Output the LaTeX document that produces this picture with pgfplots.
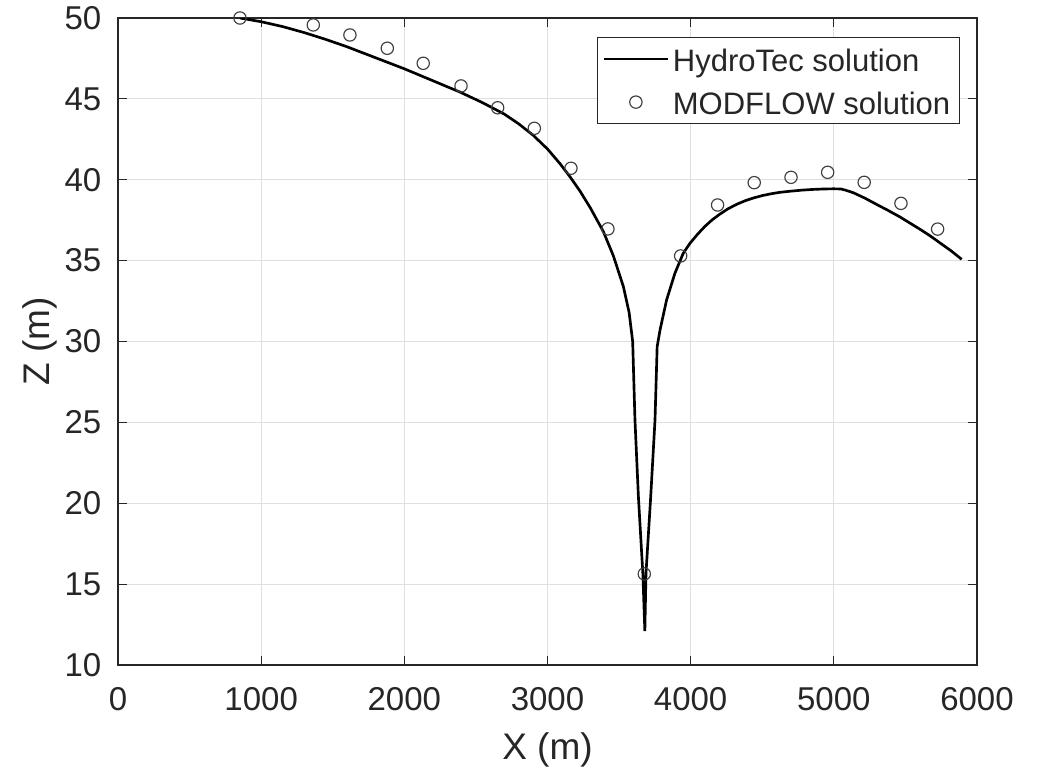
\documentclass[border=0pt]{standalone}
\usepackage{fontspec}
\setmainfont{Liberation Sans}
\usepackage{pgfplots}
\pgfplotsset{compat=1.18}
\definecolor{axc}{HTML}{262626}
\definecolor{gridc}{HTML}{DFDFDF}
\pgfplotsset{
  lineleg/.style={legend image code/.code={\draw[##1] (0pt,0pt) -- (19.2pt,0pt);}},
  markleg/.style={legend image code/.code={\draw[mark repeat=2,mark phase=2,##1] plot coordinates {(0pt,0pt) (9.6pt,0pt) (19.2pt,0pt)};}},
}
\begin{document}
\begin{tikzpicture}
\path[use as bounding box] (-35.4pt,-30.9pt) rectangle (277.5pt,199.5pt);
\begin{axis}[
  at={(0,0)}, anchor=south west,
  scale only axis, width=257.7pt, height=194.1pt,
  xmin=0, xmax=6000, ymin=10, ymax=50,
  xtick={0,1000,...,6000}, ytick={10,15,...,50},
  grid=major, major grid style={gridc, line width=0.3pt},
  axis line style={axc, line width=0.35pt},
  tick style={axc, line width=0.35pt},
  tick align=inside, major tick length=2.6pt, tick pos=both,
  /pgf/number format/assume math mode=true,
  /pgf/number format/1000 sep={},
  ticklabel style={font=\fontsize{9.9}{12}\selectfont, text=axc},
  xticklabel style={anchor=north, inner sep=0pt, yshift=-6.6pt},
  yticklabel style={anchor=east, inner sep=0pt, xshift=-4.8pt},
  xlabel={X (m)}, ylabel={Z (m)},
  label style={font=\fontsize{11.1}{13}\selectfont, text=axc},
  xlabel style={at={(axis description cs:0.5,-0.1468)}, anchor=base, inner sep=0pt},
  ylabel style={at={(axis description cs:-0.0792,0.5)}, anchor=base, inner sep=0pt},
  legend cell align=left,
  legend style={at={(0.980,0.9706)}, anchor=north east, draw=axc, line width=0.35pt,
    fill=white, font=\fontsize{9.3}{11}\selectfont, text=axc,
    inner xsep=1.6pt, inner ysep=0pt, row sep=0pt,
    nodes={inner xsep=1.1pt, inner ysep=0pt, text height=10.3pt, text depth=2.6pt}},
]
\addplot[black, line width=0.8pt, lineleg] table {
x y
852 50.00
1000 49.77
1150 49.47
1300 49.10
1450 48.68
1597 48.23
1800 47.54
2000 46.86
2200 46.12
2389 45.42
2550 44.75
2700 44.05
2800 43.45
2900 42.75
3000 41.90
3087 41.00
3160 40.15
3227 39.30
3300 38.25
3390 36.80
3460 35.30
3530 33.40
3570 31.80
3595 30.00
3611 25.15
3635 20.41
3666 15.67
3680 12.10
3688 15.67
3721 20.41
3751 25.15
3766 29.68
3786 30.71
3832 32.57
3890 34.22
3948 35.45
3995 36.07
4050 36.65
4100 37.12
4150 37.52
4200 37.85
4260 38.20
4321 38.48
4380 38.70
4437 38.87
4500 39.02
4560 39.13
4620 39.22
4694 39.29
4780 39.36
4850 39.40
4930 39.43
5000 39.44
5050 39.43
5080 39.36
5136 39.20
5220 38.85
5300 38.47
5380 38.10
5462 37.70
5530 37.33
5600 36.95
5670 36.55
5741 36.10
5820 35.60
5893 35.08
};
\addlegendentry{HydroTec solution}
\addplot[only marks, mark=o, mark size=1.85pt, mark options={draw=black!75, line width=0.35pt}, markleg] table {
x y
852 50.00
1364 49.57
1620 48.95
1881 48.13
2132 47.20
2396 45.80
2652 44.45
2908 43.18
3164 40.71
3422 36.96
3676 15.63
3930 35.29
4188 38.44
4444 39.82
4701 40.15
4957 40.46
5212 39.84
5469 38.54
5725 36.95
};
\addlegendentry{MODFLOW solution}
\end{axis}
\end{tikzpicture}
\end{document}
